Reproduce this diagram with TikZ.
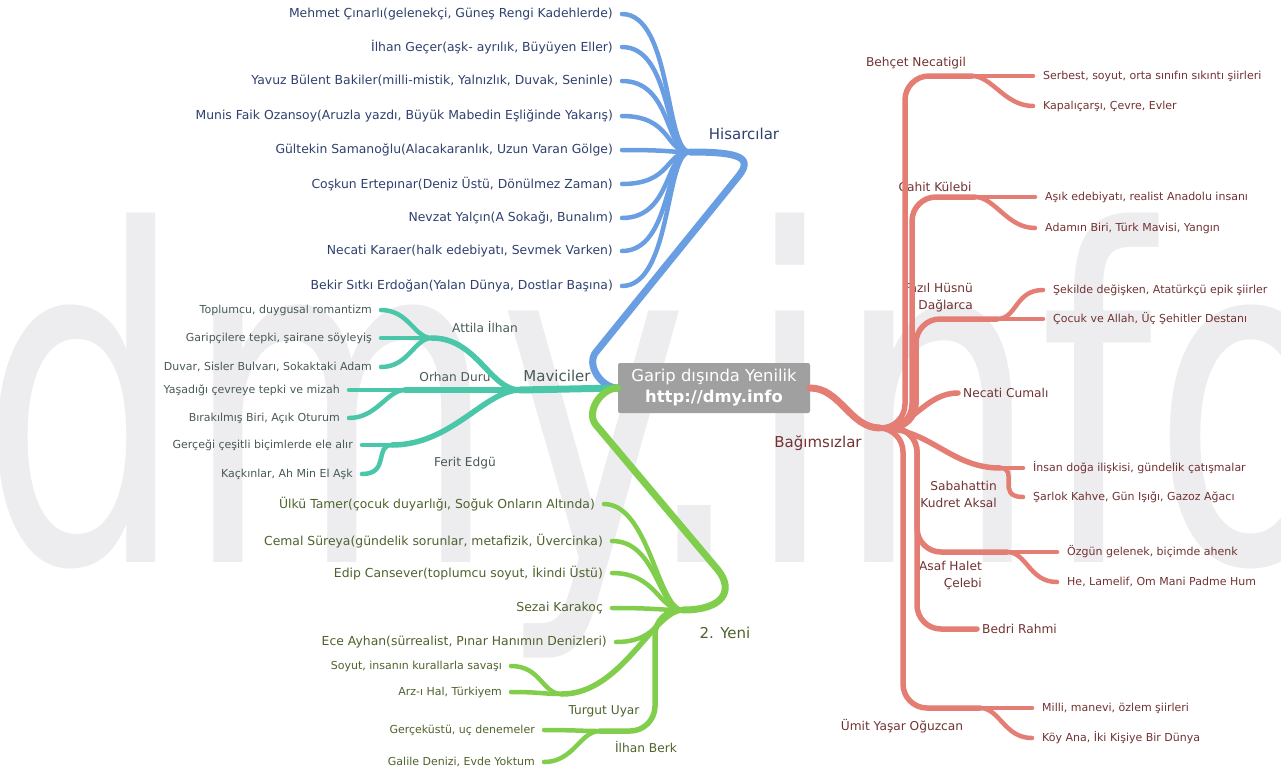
\documentclass[tikz,border=0pt]{standalone}
\usepackage{fontspec}
\setmainfont{DejaVu Sans}
\usepackage{tikz}
\usetikzlibrary{positioning, calc}

\definecolor{wmark}{RGB}{237,237,239}
\definecolor{rootgray}{RGB}{160,160,160}
\definecolor{hisblue}{RGB}{106,158,226}
\definecolor{histext}{RGB}{46,64,110}
\definecolor{mavteal}{RGB}{74,198,168}
\definecolor{mavtext}{RGB}{72,90,88}
\definecolor{yengreen}{RGB}{128,206,76}
\definecolor{yentext}{RGB}{78,98,44}
\definecolor{bagred}{RGB}{228,126,116}
\definecolor{bagtext}{RGB}{114,50,50}

\begin{document}
\begin{tikzpicture}[x=1pt, y=1pt,
    trunk/.style={line width=7pt, line cap=round},
    bough/.style={line width=5.5pt, line cap=round},
    twig/.style={line width=4.5pt, line cap=round},
    topic/.style={font=\fontsize{15}{17}\selectfont, inner sep=0pt},
    poet/.style={font=\fontsize{12.2}{17}\selectfont, inner sep=0pt, align=right},
    leftleaf/.style={anchor=east, inner xsep=9pt, inner ysep=1pt},
    rightleaf/.style={anchor=west, inner xsep=10pt, inner ysep=1pt, font=\fontsize{11}{13}\selectfont, text=bagtext}]

\useasboundingbox (0,0) rectangle (1281,-774);
\clip (0,0) rectangle (1281,-774);

% Watermark
\node[anchor=base west, inner sep=0pt, xscale=0.70, text=wmark, font=\fontsize{460}{460}\selectfont] (wm) at (-20,-562) {dmy.info};

% Central topic
\node[fill=rootgray, rounded corners=2pt, minimum width=192pt, minimum height=50pt, align=center,
      text=white, font=\fontsize{16.4}{21}\selectfont] (root) at (714,-388)
      {Garip dışında Yenilik\\\textbf{http://dmy.info}};

% Hubs
\coordinate (his) at (690,-152);
\coordinate (mav) at (520,-390);
\coordinate (yen) at (683,-610);
\coordinate (bag) at (880,-428);

% Hisarcilar
\node[topic, text=histext] (hisL) at (744,-134) {Hisarcılar};
\begin{scope}[font=\fontsize{12.4}{14}\selectfont, text=histext]
\node[leftleaf] (his1) at (622,-14) {Mehmet Çınarlı(gelenekçi, Güneş Rengi Kadehlerde)};
\node[leftleaf] (his2) at (622,-47) {İlhan Geçer(aşk- ayrılık, Büyüyen Eller)};
\node[leftleaf] (his3) at (622,-81) {Yavuz Bülent Bakiler(milli-mistik, Yalnızlık, Duvak, Seninle)};
\node[leftleaf] (his4) at (622,-116) {Munis Faik Ozansoy(Aruzla yazdı, Büyük Mabedin Eşliğinde Yakarış)};
\node[leftleaf] (his5) at (622,-150) {Gültekin Samanoğlu(Alacakaranlık, Uzun Varan Gölge)};
\node[leftleaf] (his6) at (622,-184) {Coşkun Ertepınar(Deniz Üstü, Dönülmez Zaman)};
\node[leftleaf] (his7) at (622,-218) {Nevzat Yalçın(A Sokağı, Bunalım)};
\node[leftleaf] (his8) at (622,-251) {Necati Karaer(halk edebiyatı, Sevmek Varken)};
\node[leftleaf] (his9) at (622,-286) {Bekir Sıtkı Erdoğan(Yalan Dünya, Dostlar Başına)};
\end{scope}
\coordinate (hisK) at (596,-352);
\coordinate (hisT) at (737,-178);
\draw[trunk, hisblue] (root.west) to[out=180,in=231] (hisK) -- (hisT) .. controls (754,-158) and (742,-152) .. (his);
\foreach \i in {1,...,9}
  \draw[twig, hisblue] (his) .. controls +(-25,0) and +(50,0) .. (his\i.east);

% Maviciler
\node[topic, text=mavtext] (mavL) at (557,-376) {Maviciler};
\node[poet, text=mavtext] (att) at (485,-327) {Attila İlhan};
\node[poet, text=mavtext] (orh) at (455,-377) {Orhan Duru};
\node[poet, text=mavtext] (fer) at (465,-463) {Ferit Edgü};
\coordinate (attH) at (432,-338);
\coordinate (orhH) at (405,-390);
\coordinate (ferH) at (392,-445);
\begin{scope}[font=\fontsize{11}{13}\selectfont, text=mavtext]
\node[leftleaf] (mav1) at (381,-310) {Toplumcu, duygusal romantizm};
\node[leftleaf] (mav2) at (381,-338) {Garipçilere tepki, şairane söyleyiş};
\node[leftleaf] (mav3) at (381,-367) {Duvar, Sisler Bulvarı, Sokaktaki Adam};
\node[leftleaf] (mav4) at (349,-390) {Yaşadığı çevreye tepki ve mizah};
\node[leftleaf] (mav5) at (349,-418) {Bırakılmış Biri, Açık Oturum};
\node[leftleaf] (mav6) at (362,-445) {Gerçeği çeşitli biçimlerde ele alır};
\node[leftleaf] (mav7) at (362,-474) {Kaçkınlar, Ah Min El Aşk};
\end{scope}
\draw[trunk, mavteal] (root.west) -- (mav);
\draw[bough, mavteal] (mav) .. controls +(-30,0) and +(45,0) .. (attH);
\draw[bough, mavteal] (mav) -- (orhH);
\draw[bough, mavteal] (mav) .. controls +(-35,0) and +(60,0) .. (ferH);
\foreach \hub/\leaf in {attH/mav1, attH/mav2, attH/mav3, orhH/mav4, orhH/mav5, ferH/mav6, ferH/mav7}
  \draw[twig, mavteal] (\hub) .. controls +(-18,0) and +(28,0) .. (\leaf.east);

% 2. Yeni
\node[topic, text=yentext] (yenL) at (725,-633) {2. Yeni};
\node[poet, text=yentext] (tur) at (604,-711) {Turgut Uyar};
\node[poet, text=yentext] (ilh) at (646,-747) {İlhan Berk};
\coordinate (turH) at (562,-694);
\coordinate (ilhH) at (600,-731);
\begin{scope}[font=\fontsize{12.4}{14}\selectfont, text=yentext]
\node[leftleaf] (yen1) at (604,-504) {Ülkü Tamer(çocuk duyarlığı, Soğuk Onların Altında)};
\node[leftleaf] (yen2) at (612,-541) {Cemal Süreya(gündelik sorunlar, metafizik, Üvercinka)};
\node[leftleaf] (yen3) at (612,-573) {Edip Cansever(toplumcu soyut, İkindi Üstü)};
\node[leftleaf] (yen4) at (612,-608) {Sezai Karakoç};
\node[leftleaf] (yen5) at (616,-642) {Ece Ayhan(sürrealist, Pınar Hanımın Denizleri)};
\end{scope}
\begin{scope}[font=\fontsize{11}{13}\selectfont, text=yentext]
\node[leftleaf] (yen6) at (511,-666) {Soyut, insanın kurallarla savaşı};
\node[leftleaf] (yen7) at (511,-692) {Arz-ı Hal, Türkiyem};
\node[leftleaf] (yen8) at (544,-730) {Gerçeküstü, uç denemeler};
\node[leftleaf] (yen9) at (544,-762) {Galile Denizi, Evde Yoktum};
\end{scope}
\coordinate (yenK) at (596,-425);
\coordinate (yenT) at (718,-570);
\draw[trunk, yengreen] (root.west) to[out=180,in=130] (yenK) -- (yenT) .. controls (734,-590) and (724,-610) .. (yen);
\foreach \i in {1,...,5}
  \draw[twig, yengreen] (yen) .. controls +(-25,0) and +(45,0) .. (yen\i.east);
\draw[bough, yengreen] (yen) .. controls +(-30,0) and +(60,0) .. (turH);
\draw[bough, yengreen, rounded corners=25pt] (yen) -- ++(-28,0) |- (ilhH);
\foreach \hub/\leaf in {turH/yen6, turH/yen7, ilhH/yen8, ilhH/yen9}
  \draw[twig, yengreen] (\hub) .. controls +(-20,0) and +(30,0) .. (\leaf.east);

% Bagimsizlar
\node[topic, text=bagtext] (bagL) at (818,-443) {Bağımsızlar};
\node[poet, text=bagtext] (beh) at (916,-63) {Behçet Necatigil};
\node[poet, text=bagtext] (cah) at (935,-187) {Cahit Külebi};
\node[poet, text=bagtext, anchor=east] (faz) at (973,-298) {Fazıl Hüsnü\\Dağlarca};
\node[poet, text=bagtext, anchor=west, inner xsep=5pt] (nec) at (958,-393) {Necati Cumalı};
\node[poet, text=bagtext, anchor=east] (sab) at (997,-494) {Sabahattin\\Kudret Aksal};
\node[poet, text=bagtext, anchor=east] (asa) at (982,-576) {Asaf Halet\\Çelebi};
\node[poet, text=bagtext, anchor=west, inner xsep=5pt] (bed) at (977,-629) {Bedri Rahmi};
\node[poet, text=bagtext] (umi) at (902,-726) {Ümit Yaşar Oğuzcan};
\coordinate (behH) at (972,-76);
\coordinate (cahH) at (975,-197);
\coordinate (fazH) at (997,-319);
\coordinate (sabH) at (1000,-468);
\coordinate (asaH) at (1007,-552);
\coordinate (umiH) at (980,-708);
\node[rightleaf] (bag1) at (1033,-76) {Serbest, soyut, orta sınıfın sıkıntı şiirleri};
\node[rightleaf] (bag2) at (1033,-106) {Kapalıçarşı, Çevre, Evler};
\node[rightleaf] (bag3) at (1035,-197) {Aşık edebiyatı, realist Anadolu insanı};
\node[rightleaf] (bag4) at (1035,-228) {Adamın Biri, Türk Mavisi, Yangın};
\node[rightleaf] (bag5) at (1043,-290) {Şekilde değişken, Atatürkçü epik şiirler};
\node[rightleaf] (bag6) at (1043,-319) {Çocuk ve Allah, Üç Şehitler Destanı};
\node[rightleaf] (bag7) at (1023,-468) {İnsan doğa ilişkisi, gündelik çatışmalar};
\node[rightleaf] (bag8) at (1023,-497) {Şarlok Kahve, Gün Işığı, Gazoz Ağacı};
\node[rightleaf] (bag9) at (1057,-552) {Özgün gelenek, biçimde ahenk};
\node[rightleaf] (bag10) at (1057,-582) {He, Lamelif, Om Mani Padme Hum};
\node[rightleaf] (bag11) at (1032,-708) {Milli, manevi, özlem şiirleri};
\node[rightleaf] (bag12) at (1032,-738) {Köy Ana, İki Kişiye Bir Dünya};
\draw[trunk, bagred] (root.east) .. controls +(30,0) and +(-30,0) .. (bag);
\begin{scope}[bough, bagred, rounded corners=24pt]
\draw (bag) -- ++(25,0) |- (behH);
\draw (bag) -- ++(32,0) |- (cahH);
\draw (bag) -- ++(36,0) |- (fazH);
\draw (bag) to[out=0,in=180] (nec.west);
\draw (bag) to[out=0,in=180] (sabH);
\draw (bag) -- ++(37,0) |- (asaH);
\draw (bag) -- ++(37,0) |- (bed.west);
\draw (bag) -- ++(23,0) |- (umiH);
\end{scope}
\foreach \hub/\leaf in {behH/bag1, behH/bag2, cahH/bag3, cahH/bag4, fazH/bag5, fazH/bag6,
    sabH/bag7, sabH/bag8, asaH/bag9, asaH/bag10, umiH/bag11, umiH/bag12}
  \draw[twig, bagred] (\hub) .. controls +(20,0) and +(-28,0) .. (\leaf.west);
\end{tikzpicture}
\end{document}
